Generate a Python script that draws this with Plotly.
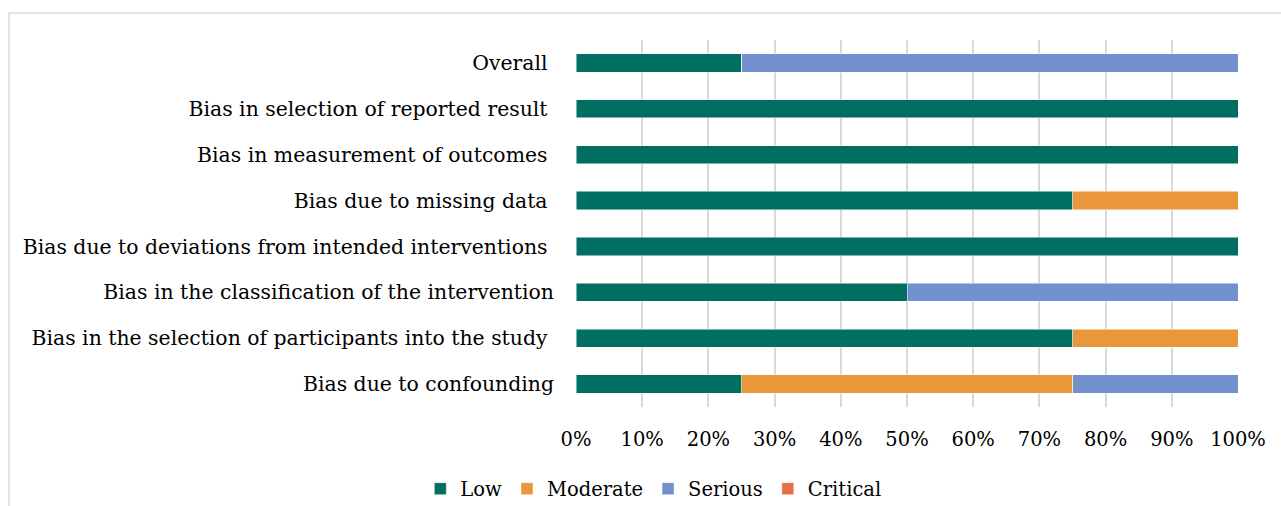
import plotly.graph_objects as go

# Risk-of-bias domains, listed bottom to top
domains = [
    "Bias due to confounding",
    "Bias in the selection of participants into the study\u00a0",
    "Bias in the classification of the intervention",
    "Bias due to deviations from intended interventions\u00a0",
    "Bias due to missing data\u00a0",
    "Bias in measurement of outcomes\u00a0",
    "Bias in selection of reported result\u00a0",
    "Overall\u00a0",
]

# Share of studies (%) per judgement
low = [25, 75, 50, 100, 75, 100, 100, 25]
moderate = [50, 25, 0, 0, 25, 0, 0, 0]
serious = [25, 0, 50, 0, 0, 0, 0, 75]
critical = [0, 0, 0, 0, 0, 0, 0, 0]

tick_vals = [0, 10, 20, 30, 40, 50, 60, 70, 80, 90, 100]
tick_text = ["0%", "10%", "20%", "30%", "40%", "50%", "60%", "70%", "80%", "90%", "100%"]

series = [
    ("Low", low, "#006F62"),
    ("Moderate", moderate, "#E9973A"),
    ("Serious", serious, "#7390CE"),
    ("Critical", critical, "#E86F45"),
]

FONT = "DejaVu Serif"

fig = go.Figure()
for name, vals, color in series:
    fig.add_trace(go.Bar(
        name=name,
        y=domains,
        x=vals,
        orientation="h",
        marker=dict(color=color, line=dict(color="rgba(255,255,255,0.6)", width=0.8)),
        width=0.4,
    ))

W, H = 1281, 506
left, right, top, bottom = 576, 1238, 40, 407
pw = right - left
ph = bottom - top

fig.update_layout(
    barmode="stack",
    width=W,
    height=H,
    margin=dict(l=left, r=W - right, t=top, b=H - bottom, pad=0),
    paper_bgcolor="white",
    plot_bgcolor="white",
    font=dict(family=FONT, size=20, color="#000000"),
    bargap=0.6,
    xaxis=dict(
        range=[0, 100],
        tickvals=tick_vals,
        ticktext=tick_text,
        showgrid=True,
        gridcolor="#D9D9D9",
        gridwidth=1.5,
        zeroline=False,
        showline=False,
        ticks="",
        ticklabelstandoff=18,
        tickfont=dict(family=FONT, size=19.5),
        fixedrange=True,
    ),
    yaxis=dict(
        categoryorder="array",
        categoryarray=domains,
        range=[-0.5, 7.5],
        showgrid=False,
        showline=False,
        zeroline=False,
        ticks="",
        ticklabelstandoff=21,
        tickfont=dict(family=FONT, size=20.4),
        fixedrange=True,
    ),
    legend=dict(
        orientation="h",
        xref="container",
        yref="container",
        x=0.51,
        xanchor="center",
        y=1 - 489 / H,
        yanchor="middle",
        font=dict(family=FONT, size=19.5),
        traceorder="normal",
        itemwidth=30,
    ),
    showlegend=True,
    shapes=[
        # chart frame
        dict(
            type="rect",
            xref="paper",
            yref="paper",
            x0=(9 - left) / pw,
            x1=(W + 20 - left) / pw,
            y0=(bottom - (H + 20)) / ph,
            y1=(bottom - 13) / ph,
            line=dict(color="#D9D9D9", width=1.5),
            fillcolor="rgba(0,0,0,0)",
            layer="below",
        ),
    ],
)

fig.write_html("out.html")
